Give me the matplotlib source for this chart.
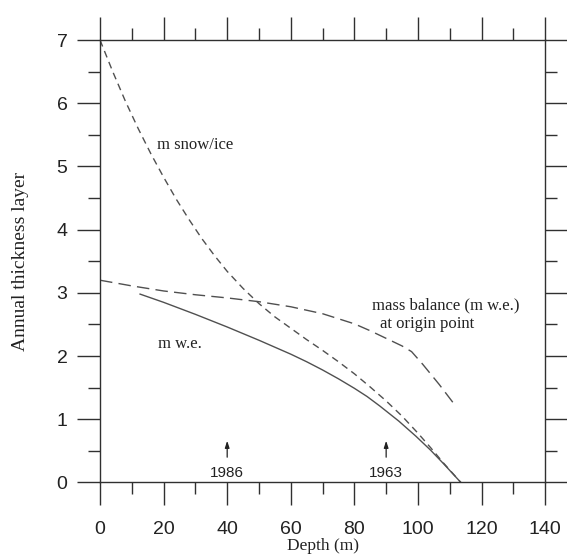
import numpy as np
import matplotlib.pyplot as plt
from matplotlib.ticker import MultipleLocator

# data
snow_x = [0, 4, 8, 12, 16, 20, 24, 28, 32, 36, 40, 45, 50, 55, 60, 65, 70, 75, 80, 85, 90, 95, 100, 104, 108, 113.5]
snow_y = [7.0, 6.50, 6.03, 5.60, 5.20, 4.83, 4.48, 4.16, 3.86, 3.59, 3.34, 3.07, 2.83, 2.62, 2.44, 2.26,
          2.09, 1.91, 1.72, 1.51, 1.29, 1.05, 0.78, 0.55, 0.31, 0.0]

mb_x = [0, 10, 20, 30, 40, 50, 60, 70, 80, 85, 90, 95, 98, 101.5, 106.7, 111.7]
mb_y = [3.2, 3.11, 3.03, 2.97, 2.92, 2.86, 2.78, 2.67, 2.51, 2.40, 2.28, 2.16, 2.07, 1.87, 1.55, 1.22]

we_x = [12.6, 20, 30, 40, 50, 60, 65, 70, 75, 80, 84, 88, 94, 99.4, 104, 108, 113.5]
we_y = [2.98, 2.85, 2.66, 2.46, 2.25, 2.03, 1.91, 1.78, 1.64, 1.49, 1.36, 1.21, 0.97, 0.73, 0.51, 0.30, 0.0]

years = ["1986", "1963"]
year_depth = [40, 90]

serif = "Liberation Serif"
sans = "Liberation Sans"
line_col = "#505050"
axis_col = "#303030"
txt_col = "#222222"

fig = plt.figure(figsize=(5.67, 5.59), dpi=100)
ax = fig.add_axes([0.1764, 0.1369, 0.785, 0.7915])

ax.plot(snow_x, snow_y, color=line_col, lw=1.0, dashes=(5, 3.5))
ax.plot(mb_x, mb_y, color=line_col, lw=1.0, dashes=(9, 4.5))
ax.plot(we_x, we_y, color=line_col, lw=1.0)

ax.set_xlim(0, 140)
ax.set_ylim(0, 7)
ax.xaxis.set_major_locator(MultipleLocator(20))
ax.xaxis.set_minor_locator(MultipleLocator(10))
ax.yaxis.set_major_locator(MultipleLocator(1))
ax.yaxis.set_minor_locator(MultipleLocator(0.5))

ax.tick_params(which="both", direction="out", top=True, right=True,
               color=axis_col, width=1.0)
ax.tick_params(which="major", length=16.5)
ax.tick_params(which="minor", length=8.5)
ax.tick_params(axis="x", which="major", pad=11, labelsize=14)
ax.tick_params(axis="y", which="major", pad=7, labelsize=14)
for lab in ax.get_xticklabels() + ax.get_yticklabels():
    lab.set_family(sans)
    lab.set_color(txt_col)
for s in ax.spines.values():
    s.set_color(axis_col)
    s.set_linewidth(1.0)

ax.set_xlabel("Depth (m)", family=serif, fontsize=12.5, labelpad=0, color=txt_col)
ax.set_ylabel("Annual thickness layer", family=serif, fontsize=14, labelpad=20, color=txt_col)

# curve labels
ax.text(17.8, 5.34, "m snow/ice", family=serif, fontsize=12, va="center", color=txt_col)
ax.text(18.3, 2.19, "m w.e.", family=serif, fontsize=12, va="center", color=txt_col)
ax.text(85.6, 2.80, "mass balance (m w.e.)", family=serif, fontsize=12, va="center", color=txt_col)
ax.text(88.1, 2.51, "at origin point", family=serif, fontsize=12, va="center", color=txt_col)

# year markers
for yr, d in zip(years, year_depth):
    ax.annotate("", xy=(d, 0.66), xytext=(d, 0.40),
                arrowprops=dict(arrowstyle="-|>,head_length=0.4,head_width=0.13",
                                color=txt_col, lw=0.9, shrinkA=0, shrinkB=0))
    ax.text(d, 0.15, yr, family=sans, fontsize=11, ha="center", va="center", color=txt_col)

fig.savefig("out.png", dpi=100)
